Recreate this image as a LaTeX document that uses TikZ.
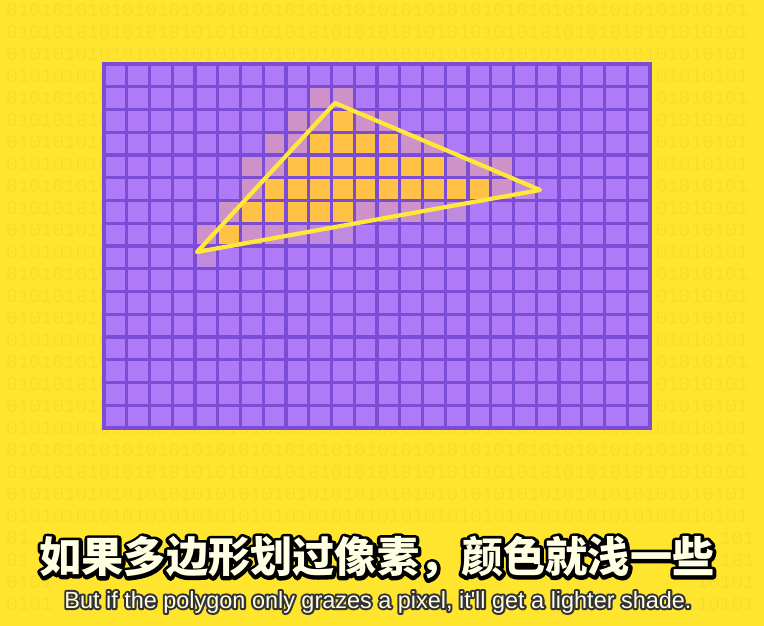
\documentclass[tikz,border=0pt]{standalone}
\usepackage{fontspec}
\usetikzlibrary{positioning}
\setmainfont{Liberation Sans}
\newfontfamily\cjk{Noto Sans CJK SC}
\newfontfamily\legfont{Liberation Sans}
\newfontfamily\bitfont{Liberation Mono}
\definecolor{fundo}{HTML}{FFE52E}
\definecolor{bitcor}{HTML}{F9DD2C}
\definecolor{roxo}{HTML}{AF7AF8}
\definecolor{roxoescuro}{HTML}{7B4DD6}
\definecolor{laranja}{HTML}{FFC247}
\definecolor{rosa}{HTML}{CF92C8}
\definecolor{rosaclaro}{HTML}{C08ADD}
\definecolor{amarelo}{HTML}{FFE83A}
\definecolor{creme}{HTML}{FFFFE4}
% contorno do texto: preenche e traça os glifos
\newcommand\contorno[1]{\special{pdf:literal direct 2 Tr #1 w 1 j}}
\newcommand\textochines{如果多边形划过像素，颜色就浅一些}
\newcommand\textoingles{But if the polygon only grazes a pixel, it'll get a lighter shade.}

\begin{document}
\begin{tikzpicture}[
    x=0.03cm, y=-0.03cm,
    bits/.style={font=\bitfont\fontsize{16.5}{16.5}\selectfont, text=bitcor,
                 inner sep=0pt, anchor=west},
    celula/.style={fill=roxo},
    cheio/.style={fill=laranja},
    meio/.style={fill=rosa},
    fraco/.style={fill=rosaclaro},
    linha/.style={draw=roxoescuro, line width=2.8pt},
    borda/.style={draw=roxoescuro, line width=3.4pt},
    aresta/.style={draw=amarelo, line width=3.6pt, line join=round, line cap=round},
    titulofonte/.style={font=\cjk\bfseries\fontsize{36}{36}\selectfont, inner sep=0pt},
    legendafonte/.style={font=\legfont\fontsize{20}{20}\selectfont, inner sep=0pt}
  ]

  % ── fundo ────────────────────────────────────────────────────────
  \fill[fundo] (0,0) rectangle (764,626);
  \useasboundingbox (0,0) rectangle (764,626);
  \def\bitrow{0101010101010101010101010101010101010101010101010101010101010101}
  \foreach \k in {0,...,23}
    \node[bits] (bits\k) at (6, {10+22*\k}) {\bitrow};
  % ── bits ao lado das legendas
  \foreach \k/\esq/\dir in {24/01/101, 25/01/101, 26/0101/10101, 27/0101/10101}
  {
    \node[bits] (bitsE\k) at (6, {10+22*\k}) {\esq};
    \node[bits, anchor=east] (bitsD\k) at (755, {10+22*\k}) {\dir};
  }

  % ── grade de pixels ──────────────────────────────────────────────
  \begin{scope}[shift={(104,64)}, x=0.6825cm, y=-0.6825cm]
    \fill[celula] (0,0) rectangle (24,16);
    \foreach \r/\a/\b in {2/10/10, 3/9/12, 4/8/14, 5/7/16, 6/6/10, 7/5/5}
      \foreach \c in {\a,...,\b}
        \fill[cheio] (\c,\r) rectangle ++(1,1);
    \foreach \c/\r in {9/1, 10/1, 8/2, 9/2, 11/2, 12/2, 7/3, 8/3, 13/3, 14/3,
                       6/4, 7/4, 15/4, 16/4, 17/4, 6/5, 17/5,
                       5/6, 11/6, 12/6, 13/6, 4/7, 6/7, 7/7}
      \fill[meio] (\c,\r) rectangle ++(1,1);
    \foreach \c/\r in {18/5, 14/6, 15/6, 8/7, 9/7, 10/7, 4/8}
      \fill[fraco] (\c,\r) rectangle ++(1,1);
    \foreach \i in {1,...,23}
      \draw[linha] (\i,0) -- (\i,16);
    \foreach \j in {1,...,15}
      \draw[linha] (0,\j) -- (24,\j);
    \draw[borda] (0,0) rectangle (24,16);
  \end{scope}

  % ── triângulo ────────────────────────────────────────────────────
  \coordinate (topo)  at (335,103);
  \coordinate (ponta) at (540,190);
  \coordinate (canto) at (197,252);
  \draw[aresta] (topo) -- (ponta) -- (canto) -- cycle;

  % ── legendas ─────────────────────────────────────────────────────
  \node[titulofonte, text=black] (tituloborda) at (377,558) {\contorno{6}\textochines};
  \node[titulofonte, text=creme] (titulo) at (tituloborda) {\textochines};
  \node[legendafonte, text=black!80] (legendaborda) at (378,602) {\contorno{3.5}\textoingles};
  \node[legendafonte, text=creme] (legenda) at (legendaborda) {\textoingles};

\end{tikzpicture}
\end{document}
